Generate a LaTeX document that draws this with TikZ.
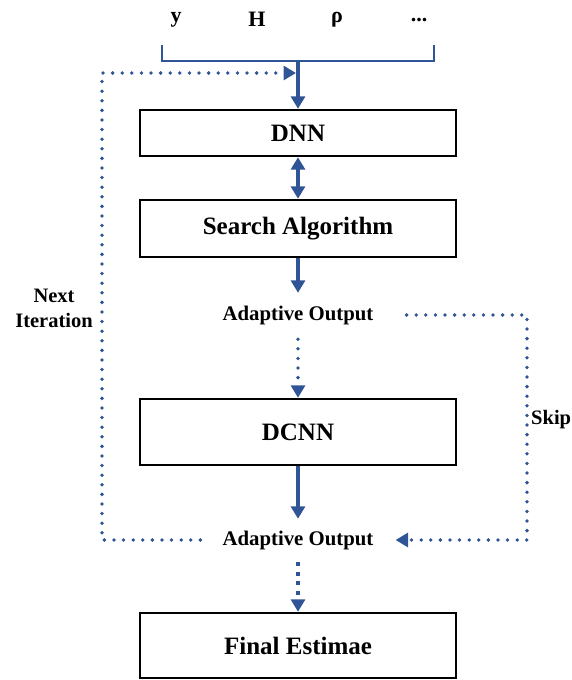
\documentclass[tikz,border=0pt]{standalone}
\usepackage{fontspec}
\setmainfont{Liberation Serif}
\usetikzlibrary{arrows.meta}
\definecolor{lblue}{HTML}{2F5597}
\begin{document}
\begin{tikzpicture}[x=1pt,y=-1pt,
  box/.style={draw=black,line width=2.4pt,minimum width=316pt,inner sep=0pt,font=\fontsize{25}{29}\selectfont\bfseries},
  lab/.style={inner sep=0pt,font=\fontsize{20.8}{24}\selectfont\bfseries},
  toplab/.style={inner sep=0pt,font=\fontsize{22}{24}\selectfont\bfseries},
  sidelab/.style={inner sep=0pt,align=center,font=\fontsize{20.5}{25}\selectfont\bfseries},
  tip/.style={-{Triangle[width=14pt,length=12.5pt]}},
  solidarrow/.style={draw=lblue,line width=4pt,tip},
  dotline/.style={draw=lblue,line width=3.8pt,line cap=round,dash pattern=on 0pt off 9.6pt},
  sqline/.style={draw=lblue,line width=4.2pt,dash pattern=on 4pt off 5.5pt}
]
\useasboundingbox (0,0) rectangle (571,680);

% top labels
\node[toplab] (ly) at (176,20) {y};
\node[toplab] (lH) at (257,19) {H};
\node[toplab] (lrho) at (337,20) {ρ};
\node[toplab] (ldots) at (419,20) {...};

% bracket
\coordinate (b1) at (162,45);
\coordinate (b2) at (162,61);
\coordinate (bm) at (298,61);
\coordinate (b3) at (434,61);
\coordinate (b4) at (434,45);
\draw[lblue,line width=1.6pt] (b1) -- (b2) -- (b3) -- (b4);

% boxes
\node[box,minimum height=46pt] (dnn) at (298,133) {DNN};
\node[box,minimum height=57pt] (search) at (298,228.5) {Search Algorithm};
\node[lab,minimum height=44pt] (ao1) at (298,315) {Adaptive Output};
\node[box,minimum height=66pt] (dcnn) at (298,432) {DCNN};
\node[lab,minimum height=42pt] (ao2) at (298,540) {Adaptive Output};
\node[box,minimum height=65pt] (final) at (298,645.5) {Final Estimae};

% side labels
\node[sidelab] (next) at (54,308) {Next\\Iteration};
\node[sidelab,anchor=west] (skip) at (531,420) {Skip};

% solid arrows
\draw[solidarrow] (bm) -- (dnn.north);
\draw[draw=lblue,line width=4pt,{Triangle[width=14pt,length=12.5pt]}-{Triangle[width=14pt,length=12.5pt]}] (dnn.south) -- (search.north);
\draw[solidarrow] (search.south) -- (ao1.north);
\draw[solidarrow] (dcnn.south) -- (ao2.north);

% dotted arrows
\draw[dotline,tip] ([yshift=-2pt]ao1.south) -- (dcnn.north);
\draw[sqline,tip] ([yshift=-1pt]ao2.south) -- (final.north);

% next iteration loop
\coordinate (lb) at (102,540);
\coordinate (lt) at (102,73);
\coordinate (ltip) at (296,73);
\draw[dotline,tip,shorten <=22pt] (ao2.west) -- (lb) -- (lt) -- (ltip);

% skip
\coordinate (st) at (527,315);
\coordinate (sb) at (527,540);
\draw[dotline,tip,shorten <=33pt,shorten >=22pt] (ao1.east) -- (st) -- (sb) -- (ao2.east);
\end{tikzpicture}
\end{document}
